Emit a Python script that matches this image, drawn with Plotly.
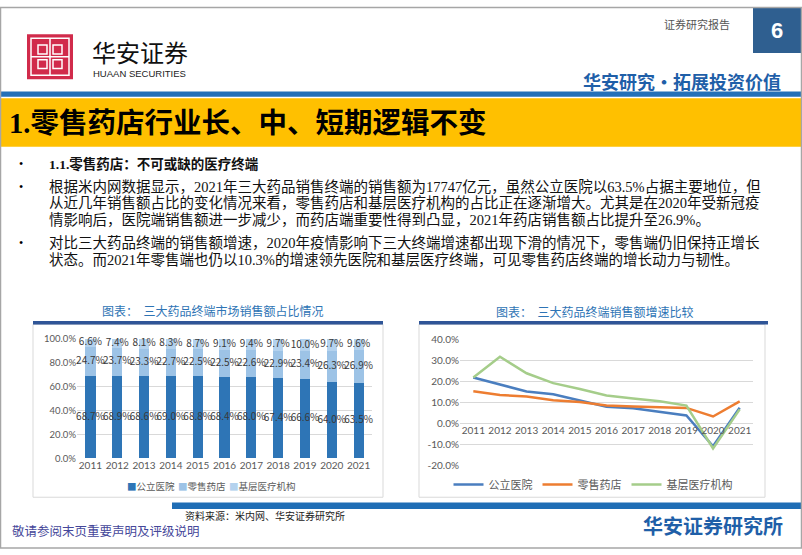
import plotly.graph_objects as go

W, H = 802, 555

years = ["2011", "2012", "2013", "2014", "2015", "2016", "2017", "2018", "2019", "2020", "2021"]

# share of sales by terminal (%)
share_hospital = [68.7, 68.9, 68.6, 69.0, 68.8, 68.4, 68.0, 67.4, 66.6, 64.0, 63.5]
share_retail = [24.7, 23.7, 23.3, 22.7, 22.5, 22.5, 22.6, 22.9, 23.4, 26.3, 26.9]
share_primary = [6.6, 7.4, 8.1, 8.3, 8.7, 9.1, 9.4, 9.7, 10.0, 9.7, 9.6]

# sales growth by terminal (%)
growth_hospital = [21.7, 18.2, 15.0, 13.7, 10.7, 7.8, 7.0, 5.3, 3.6, -11.1, 7.3]
growth_retail = [15.1, 13.4, 12.6, 10.9, 10.0, 8.4, 7.9, 7.5, 7.2, 3.1, 10.3]
growth_primary = [21.7, 31.6, 23.7, 19.0, 16.2, 13.1, 11.7, 10.4, 8.3, -12.1, 6.5]

share_ticks = [0, 20, 40, 60, 80, 100]
growth_ticks = [-20, -10, 0, 10, 20, 30, 40]

terminal_names = ["公立医院", "零售药店", "基层医疗机构"]

title = "1.零售药店行业长、中、短期逻辑不变"
bullets = [
    "<b>1.1.零售药店：不可或缺的医疗终端</b>",
    "根据米内网数据显示，2021年三大药品销售终端的销售额为17747亿元，虽然公立医院以63.5%占据主要地位，但",
    "从近几年销售额占比的变化情况来看，零售药店和基层医疗机构的占比正在逐渐增大。尤其是在2020年受新冠疫",
    "情影响后，医院端销售额进一步减少，而药店端重要性得到凸显，2021年药店销售额占比提升至26.9%。",
    "对比三大药品终端的销售额增速，2020年疫情影响下三大终端增速都出现下滑的情况下，零售端仍旧保持正增长",
    "状态。而2021年零售端也仍以10.3%的增速领先医院和基层医疗终端，可见零售药店终端的增长动力与韧性。",
]
bullet_rows = [160.5, 184, 201, 218, 242, 259]
bullet_dots = [160.5, 184, 242]

SERIF = "Liberation Serif, Noto Sans CJK SC, sans-serif"
CJK = "Noto Sans CJK SC, sans-serif"
CHART = "Lato, Noto Sans CJK SC, sans-serif"
BLUE = "#1F5FA8"


def px(x):
    return x / W


def py(y):
    return 1 - y / H


fig = go.Figure()

# left chart: stacked share bars
bar_colors = ["#2E75B6", "#9DC3E6", "#B4D2EE"]
series = [share_hospital, share_retail, share_primary]
base = [0.0] * len(years)
for name, vals, col in zip(terminal_names, series, bar_colors):
    fig.add_trace(go.Bar(
        x=years, y=vals, name=name, showlegend=False,
        marker=dict(color=col, line=dict(width=0)),
        xaxis="x", yaxis="y",
    ))
    # segment labels, centred in each stacked segment
    mids = [b + v / 2 for b, v in zip(base, vals)]
    fig.add_trace(go.Scatter(
        x=years, y=mids, mode="text", text=[f"{v:.1f}%" for v in vals],
        textfont=dict(size=10, color="#3A3A3A", family=CJK),
        showlegend=False, hoverinfo="skip", cliponaxis=False,
        xaxis="x", yaxis="y",
    ))
    base = [b + v for b, v in zip(base, vals)]

# right chart: growth lines
line_colors = ["#4A7EBF", "#ED7D31", "#A5CD8A"]
for name, vals, col in zip(terminal_names, [growth_hospital, growth_retail, growth_primary], line_colors):
    fig.add_trace(go.Scatter(
        x=years, y=vals, name=name, mode="lines",
        line=dict(color=col, width=2.5),
        xaxis="x2", yaxis="y2", legend="legend2",
    ))


def rect(x0, y0, x1, y1, fill=None, line=None, width=1.0):
    d = dict(type="rect", xref="paper", yref="paper",
             x0=px(x0), x1=px(x1), y0=py(y0), y1=py(y1))
    d["fillcolor"] = fill if fill else "rgba(0,0,0,0)"
    d["line"] = dict(color=line, width=width) if line else dict(width=0)
    return d


def hline(x0, x1, y, color, width=1.0):
    return dict(type="line", xref="paper", yref="paper", x0=px(x0), x1=px(x1),
                y0=py(y), y1=py(y), line=dict(color=color, width=width))


def vline(x, y0, y1, color, width=1.0):
    return dict(type="line", xref="paper", yref="paper", x0=px(x), x1=px(x),
                y0=py(y0), y1=py(y1), line=dict(color=color, width=width))


shapes = [
    # logo
    rect(27, 28, 73, 74, fill="#D12B4B"),
    rect(31, 32, 69, 70, line="white", width=1.5),
    rect(38, 39, 47, 48, line="white", width=1.5),
    rect(53, 39, 62, 48, line="white", width=1.5),
    rect(38, 54, 47, 63, line="white", width=1.5),
    rect(53, 54, 62, 63, line="white", width=1.5),
    vline(50, 32, 70, "white", 1.5),
    hline(31, 69, 51, "white", 1.5),
    # page number box
    rect(753, 0, 801, 47, fill="#2F5F90"),
    # header rule and title band
    rect(1, 86.5, 801, 92, fill="#2470B8"),
    rect(1, 93.5, 801, 143, fill="#FFC000"),
    # chart boxes
    rect(33, 325, 383, 502, line="#D9D9D9"),
    rect(419, 325, 765, 502, line="#D9D9D9"),
    rect(33, 321.5, 383, 325, fill="#2F5597"),
    rect(419, 321.5, 768, 325, fill="#2F5597"),
    # bottom band
    rect(172, 507.5, 801, 514, fill="#1F6DB5"),
    # page border
    rect(0.5, 0.5, 801.5, 554, line="#A6A6A6", width=1.5),
]

annotations = []


def text(x, y, s, size, color="#000000", family=SERIF, anchor="left"):
    annotations.append(dict(
        x=px(x), y=py(y), xref="paper", yref="paper", text=s, showarrow=False,
        xanchor=anchor, yanchor="middle", font=dict(size=size, color=color, family=family),
    ))


text(90, 46, "华安证券", 24, "#111111", CJK)
text(91, 68, "HUAAN SECURITIES", 9.5, "#222222", "Liberation Sans Narrow, Liberation Sans, sans-serif")
text(697, 17, "证券研究报告", 11, "#555555", CJK, "center")
text(777, 24, "<b>6</b>", 22, "white", "Liberation Sans, sans-serif", "center")
text(783, 76, "<b>华安研究·拓展投资价值</b>", 18, BLUE, CJK, "right")
text(7, 119, "<b>" + title + "</b>", 28.5, "#000000", SERIF)

for yy in bullet_dots:
    text(17, yy, "•", 12, "#000000", SERIF)
for s, yy in zip(bullets, bullet_rows):
    text(47, yy, s, 14.5 if not s.startswith("<b>") else 13.5, "#111111", SERIF)

text(212, 311, "图表：  三大药品终端市场销售额占比情况", 12, "#2E74B5", CJK, "center")
text(594, 312, "图表：  三大药品终端销售额增速比较", 12, "#2E74B5", CJK, "center")

# left chart legend (small square markers)
legend_x = [125, 176, 227]
for name, col, lx in zip(terminal_names, bar_colors, legend_x):
    text(lx, 490, f"<span style='color:{col}'>■</span>{name}", 9.5, "#595959", CJK)

text(183, 521, "资料来源：米内网、华安证券研究所", 10, "#222222", CJK)
text(10, 537, "敬请参阅末页重要声明及评级说明", 12.5, "#45479A", SERIF)
text(785, 531, "<b>华安证券研究所</b>", 20, BLUE, CJK, "right")

fig.update_layout(
    width=W, height=H, margin=dict(l=0, r=0, t=0, b=0),
    paper_bgcolor="white", plot_bgcolor="rgba(0,0,0,0)",
    barmode="stack", bargap=0.62,
    shapes=shapes, annotations=annotations,
    xaxis=dict(domain=[px(77), px(372)], type="category", anchor="y", range=[-0.5, 10.5],
               showline=False, ticks="", showgrid=False,
               tickfont=dict(size=10, color="#595959", family=CHART)),
    yaxis=dict(domain=[py(462), py(340)], range=[0, 100], anchor="x",
               tickvals=share_ticks, ticktext=[f"{v:.1f}%" for v in share_ticks],
               gridcolor="#D9D9D9", gridwidth=1, zeroline=False, showline=False,
               tickfont=dict(size=9.5, color="#595959", family=CHART)),
    xaxis2=dict(domain=[px(460), px(753)], type="category", anchor="free", range=[-0.5, 10.5],
                position=py(426), showline=False, ticks="", showgrid=False,
                tickfont=dict(size=10, color="#595959", family=CHART)),
    yaxis2=dict(domain=[py(469), py(340)], range=[-20, 40], anchor="x2",
                tickvals=growth_ticks, ticktext=[f"{v:.1f}%" for v in growth_ticks],
                gridcolor="#D9D9D9", gridwidth=1, zeroline=False, showline=False,
                tickfont=dict(size=10, color="#595959", family=CHART)),
    legend2=dict(orientation="h", x=px(593), y=py(489), xanchor="center", yanchor="middle",
                 traceorder="normal", font=dict(size=11, color="#595959", family=CJK),
                 bgcolor="rgba(0,0,0,0)"),
    showlegend=True,
)

# pin the figure to the top-left corner of the page (no default body margin)
fig.write_html(
    "out.html",
    config={"displayModeBar": False},
    post_script=(
        "document.body.style.margin='0';"
        "var d=document.getElementById('{plot_id}');"
        "d.style.position='fixed';d.style.left='0px';d.style.top='0px';"
    ),
)
